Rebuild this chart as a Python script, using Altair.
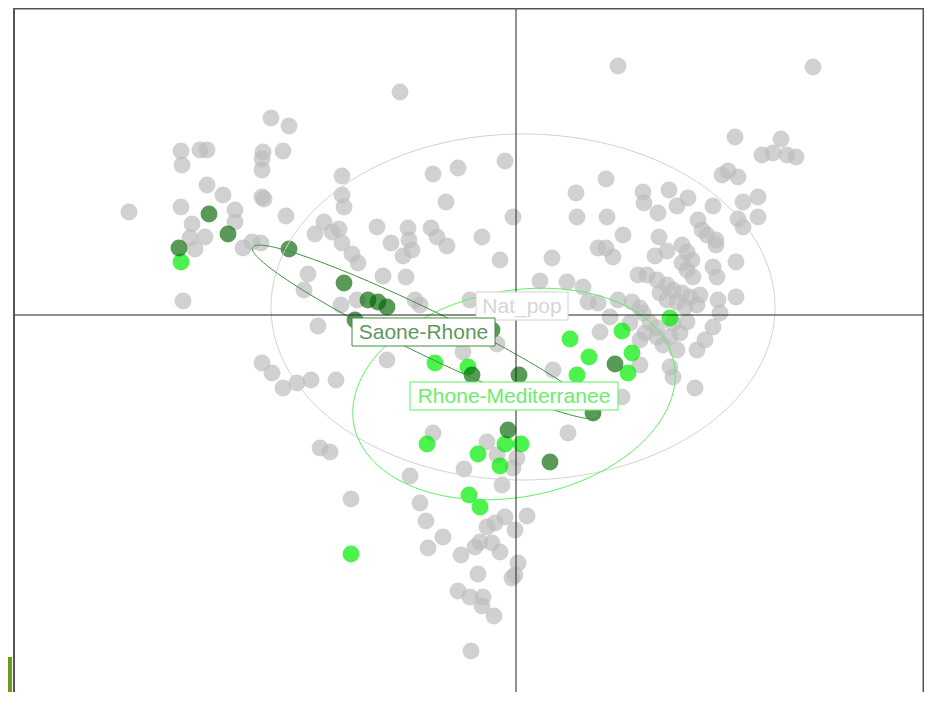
import altair as alt
import numpy as np
import pandas as pd

# ---------------- data (factor map coordinates, Dim 1 / Dim 2) ----------------
groups = ["Nat_pop", "Saone-Rhone", "Rhone-Mediterranee"]

nat_pop_points = [
    (-1.16, 2.23), (-2.45, 1.97), (-2.27, 1.89), (-3.35, 1.64), (-3.16, 1.65), (-3.09, 1.65), (-3.34, 1.50),
    (-2.53, 1.63), (-2.54, 1.56), (-2.33, 1.64), (-2.54, 1.45), (-3.09, 1.30), (-2.93, 1.20), (-2.54, 1.18),
    (-2.52, 1.16), (-3.87, 1.03), (-3.35, 1.08), (-2.81, 1.05), (-2.81, 0.93), (-3.24, 0.91), (-3.11, 0.78),
    (-3.26, 0.77), (-3.21, 0.66), (-2.73, 0.67), (-2.64, 0.73), (-2.55, 0.72), (-2.30, 0.99), (-1.74, 1.39),
    (-1.74, 1.20), (-1.72, 1.08), (-1.92, 0.93), (-2.01, 0.81), (-1.84, 0.83), (-1.77, 0.86), (-1.74, 0.72),
    (-1.64, 0.61), (-1.58, 0.52), (-2.08, 0.41), (-2.12, 0.25), (-1.75, 0.10), (-1.59, 0.15), (-1.39, 0.88),
    (-1.25, 0.72), (-1.08, 0.87), (-1.07, 0.75), (-1.04, 0.65), (-1.13, 0.59), (-1.33, 0.39), (-1.10, 0.38),
    (-1.01, 0.15), (-0.96, 0.10), (-0.83, 1.41), (-0.58, 1.47), (-0.70, 1.13), (-0.85, 0.87), (-0.79, 0.78),
    (-0.69, 0.69), (-0.34, 0.78), (-0.16, 0.55), (-0.11, 1.54), (-0.03, 0.98), (-3.33, 0.14), (-1.98, -0.11),
    (-1.29, -0.45), (-0.53, -0.37), (-0.19, -0.29), (-2.54, -0.48), (-2.44, -0.58), (-2.33, -0.73), (-2.19, -0.68),
    (-2.05, -0.65), (-1.80, -0.65), (-0.46, 0.15),
    (2.19, 1.78), (2.65, 1.76), (2.46, 1.60), (2.57, 1.62), (2.71, 1.60), (2.80, 1.58), (2.12, 1.44),
    (2.06, 1.40), (2.22, 1.38), (0.90, 1.36), (0.60, 1.22), (1.27, 1.23), (1.53, 1.25), (1.72, 1.17),
    (1.61, 1.09), (1.28, 1.12), (1.42, 1.02), (1.97, 1.09), (2.42, 1.18), (2.27, 1.13), (2.42, 0.98),
    (2.22, 0.96), (2.27, 0.88), (1.82, 0.95), (0.61, 0.98), (0.91, 0.98), (1.07, 0.80), (1.43, 0.78),
    (1.86, 0.85), (1.91, 0.80), (2.00, 0.75), (2.00, 0.70), (0.82, 0.67), (0.90, 0.67), (0.97, 0.58),
    (0.36, 0.57), (1.39, 0.59), (1.51, 0.64), (1.66, 0.70), (1.71, 0.63), (1.76, 0.55), (1.66, 0.52),
    (1.71, 0.45), (1.77, 0.38), (1.97, 0.48), (2.01, 0.38), (2.20, 0.53), (1.22, 0.40), (1.31, 0.40),
    (1.41, 0.35), (1.51, 0.30), (1.57, 0.25), (1.66, 0.22), (1.74, 0.18), (1.84, 0.20), (1.44, 0.22),
    (1.51, 0.15), (1.61, 0.13), (1.69, 0.08), (1.81, 0.10), (2.02, 0.15), (2.20, 0.18), (0.24, 0.34),
    (0.51, 0.33), (0.67, 0.28), (0.72, 0.13), (0.82, 0.12), (1.02, 0.15), (1.16, 0.13), (1.24, 0.07),
    (0.94, -0.02), (1.14, -0.08), (1.27, 0.02), (1.34, -0.08), (1.41, -0.13), (1.57, -0.08), (1.64, -0.18),
    (1.71, -0.07), (1.97, -0.12), (2.04, 0.02), (0.84, -0.17), (1.29, -0.18), (1.24, -0.25), (1.41, -0.22),
    (1.47, -0.30), (1.54, -0.22), (1.61, -0.35), (1.81, -0.35), (1.89, -0.25), (1.24, -0.50), (1.54, -0.52),
    (1.57, -0.62), (1.79, -0.73), (0.37, -0.55), (1.06, -0.82), (1.02, 2.49), (2.97, 2.48),
    (-0.83, -1.18), (-1.96, -1.33), (-1.86, -1.37), (-0.29, -1.27), (-0.19, -1.40), (0.01, -1.43),
    (-0.03, -1.53), (-0.52, -1.54), (-1.06, -1.61), (-0.14, -1.70), (-1.65, -1.84), (-0.96, -1.88),
    (-0.90, -2.06), (-0.73, -2.22), (-0.88, -2.33), (-0.55, -2.40), (-0.41, -2.32), (-0.36, -2.27),
    (-0.24, -2.28), (-0.16, -2.37), (-0.29, -2.12), (-0.21, -2.08), (-0.11, -2.02), (-0.01, -2.15),
    (0.11, -2.01), (0.02, -2.48), (-0.04, -2.63), (-0.01, -2.60), (-0.38, -2.59), (-0.58, -2.76),
    (-0.46, -2.82), (-0.33, -2.82), (-0.34, -2.91), (-0.22, -3.01), (-0.45, -3.36), (0.52, -1.18),
]

saone_rhone_points = [
    (-3.07, 1.01), (-2.88, 0.81), (-3.37, 0.67), (-2.27, 0.66), (-1.72, 0.32), (-1.48, 0.15),
    (-1.38, 0.13), (-1.29, 0.08), (-1.61, -0.05), (-0.24, -0.15), (-0.44, -0.60), (0.03, -0.60),
    (0.99, -0.49), (0.77, -0.98), (-0.08, -1.15), (0.34, -1.47),
]

rhone_med_points = [
    (-3.35, 0.53), (-0.81, -0.48), (-0.48, -0.52), (1.54, -0.03), (0.54, -0.24), (1.06, -0.16),
    (0.73, -0.42), (1.16, -0.38), (1.12, -0.58), (0.61, -0.60), (-0.89, -1.29), (-0.38, -1.39),
    (-0.11, -1.29), (0.05, -1.29), (-0.16, -1.51), (-0.47, -1.80), (-0.36, -1.92), (-1.65, -2.39),
]

# ellipse per group: centre, semi-axes, rotation (degrees)
ell_cx = [0.07, -0.90, -0.02]
ell_cy = [0.08, -0.17, -0.79]
ell_a = [2.52, 1.93, 1.63]
ell_b = [1.73, 0.22, 1.03]
ell_angle = [0.0, -26.0, 11.0]

# group labels (at the group centres) and their box half sizes
lab_x = [0.06, -0.925, -0.02]
lab_y = [0.09, -0.17, -0.81]
lab_hw = [0.46, 0.715, 1.04]
lab_hh = [0.14, 0.14, 0.14]

pt_colors = ["#bebebe", "#006400", "#00ee00"]
line_colors = ["#d2d2d2", "#3f8f3f", "#5cf05c"]
text_colors = ["#d6d6d6", "#5f975f", "#6cec6c"]

# ---------------- tables ----------------
def pts(lst, g):
    return pd.DataFrame({"x": [p[0] for p in lst], "y": [p[1] for p in lst], "group": g})

df_gray = pts(nat_pop_points, groups[0])
df_sr = pts(saone_rhone_points, groups[1])
df_rm = pts(rhone_med_points, groups[2])

t = np.linspace(0, 2 * np.pi, 241)
ell_rows = []
for i, g in enumerate(groups):
    th = np.deg2rad(ell_angle[i])
    ex = ell_cx[i] + ell_a[i] * np.cos(t) * np.cos(th) - ell_b[i] * np.sin(t) * np.sin(th)
    ey = ell_cy[i] + ell_a[i] * np.cos(t) * np.sin(th) + ell_b[i] * np.sin(t) * np.cos(th)
    for k in range(len(t)):
        ell_rows.append({"group": g, "x": float(ex[k]), "y": float(ey[k]), "k": k})
df_ell = pd.DataFrame(ell_rows)

df_lab = pd.DataFrame({
    "group": groups, "x": lab_x, "y": lab_y,
    "x1": [a - b for a, b in zip(lab_x, lab_hw)], "x2": [a + b for a, b in zip(lab_x, lab_hw)],
    "y1": [a - b for a, b in zip(lab_y, lab_hh)], "y2": [a + b for a, b in zip(lab_y, lab_hh)],
})
df_origin = pd.DataFrame({"x": [0.0], "y": [0.0]})

# ---------------- scales ----------------
W, H = 911, 684
xs = alt.Scale(domain=[-5.03, 4.08], nice=False, zero=False)
ys = alt.Scale(domain=[-3.77, 3.07], nice=False, zero=False)


def X(f="x"):
    return alt.X(f"{f}:Q", scale=xs, axis=None)


def Y(f="y"):
    return alt.Y(f"{f}:Q", scale=ys, axis=None)


line_scale = alt.Scale(domain=groups, range=line_colors)
text_scale = alt.Scale(domain=groups, range=text_colors)

size = 285

gray_layer = alt.Chart(df_gray).mark_circle(size=size, color=pt_colors[0], opacity=0.7).encode(x=X(), y=Y())
rm_layer = alt.Chart(df_rm).mark_circle(size=size, color=pt_colors[2], opacity=0.7).encode(x=X(), y=Y())
sr_layer = alt.Chart(df_sr).mark_circle(size=size, color=pt_colors[1], opacity=0.65).encode(x=X(), y=Y())

ell_layer = alt.Chart(df_ell).mark_line(strokeWidth=1).encode(
    x=X(), y=Y(), detail="group:N", order="k:Q",
    color=alt.Color("group:N", scale=line_scale, legend=None),
)

vline = alt.Chart(df_origin).mark_rule(color="#222222", strokeWidth=1).encode(x=X())
hline = alt.Chart(df_origin).mark_rule(color="#222222", strokeWidth=1).encode(y=Y())

frame_left = alt.Chart(df_origin).mark_rule(color="#555555", strokeWidth=2).encode(
    x=alt.value(1), y=alt.value(0), y2=alt.value(H))
frame_top = alt.Chart(df_origin).mark_rule(color="#555555", strokeWidth=1.5).encode(
    x=alt.value(0), x2=alt.value(W), y=alt.value(0.75))
frame_right = alt.Chart(df_origin).mark_rule(color="#555555", strokeWidth=1.5).encode(
    x=alt.value(W - 0.75), y=alt.value(0), y2=alt.value(H))

lab_box = alt.Chart(df_lab).mark_rect(fill="white", strokeWidth=1).encode(
    x=X("x1"), x2="x2", y=Y("y1"), y2="y2",
    stroke=alt.Stroke("group:N", scale=line_scale, legend=None),
)
lab_text = alt.Chart(df_lab).mark_text(
    font="Liberation Sans", fontSize=21, align="center", baseline="middle", dy=1
).encode(
    x=X(), y=Y(), text="group:N",
    color=alt.Color("group:N", scale=text_scale, legend=None),
)

side_block = alt.Chart(df_origin).mark_rect(color="#6b9b1e").encode(
    x=alt.value(-5), x2=alt.value(-1), y=alt.value(649), y2=alt.value(H))

chart = alt.layer(
    gray_layer, rm_layer, sr_layer, ell_layer, vline, hline,
    frame_left, frame_top, frame_right, lab_box, lab_text, side_block,
).resolve_scale(color="independent", stroke="independent").properties(
    width=W, height=H,
    autosize=alt.AutoSizeParams(type="none"),
    padding={"left": 5, "top": 0, "right": 0, "bottom": 0},
    background="white",
).configure_view(stroke=None)

chart.save("out.html", embed_options={"renderer": "svg", "actions": False})
